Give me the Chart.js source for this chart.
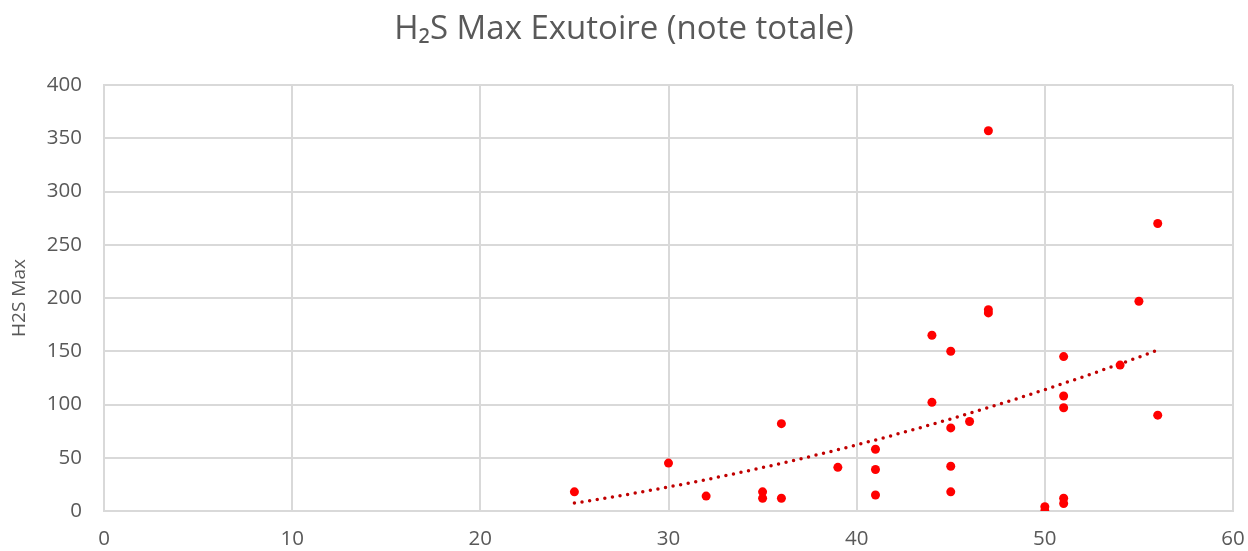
<!DOCTYPE html>
<html>
<head>
<meta charset="utf-8">
<script src="https://cdn.jsdelivr.net/npm/chart.js@4.4.0/dist/chart.umd.min.js"></script>
<style>
html,body{margin:0;padding:0;background:#fff;}
#wrap{width:1248px;height:551px;position:relative;}
</style>
</head>
<body>
<div id="wrap"><canvas id="c" width="1248" height="551"></canvas></div>
<script>
// Data
const noteTotale = [25,30,32,35,35,36,36,39,41,41,41,44,44,45,45,45,45,46,47,47,47,50,50,51,51,51,51,51,54,55,56,56];
const h2sMax     = [18,45,14,18,12,82,12,41,58,39,15,165,102,150,78,42,18,84,357,189,186,4,0,145,108,97,12,7,137,197,270,90];
const xTicks = [0,10,20,30,40,50,60];
const yTicks = [0,50,100,150,200,250,300,350,400];
const chartTitle = 'H\u2082S Max Exutoire (note totale)';
const yTitle = 'H2S Max';

const points = noteTotale.map((x,i)=>({x:x,y:h2sMax[i]}));

// Polynomial (order 2) least-squares trendline, like the spreadsheet's
function polyFit2(xs, ys){
  let n=xs.length, s1=0,s2=0,s3=0,s4=0,t0=0,t1=0,t2=0;
  for(let i=0;i<n;i++){const x=xs[i],y=ys[i];s1+=x;s2+=x*x;s3+=x*x*x;s4+=x*x*x*x;t0+=y;t1+=x*y;t2+=x*x*y;}
  const M=[[n,s1,s2,t0],[s1,s2,s3,t1],[s2,s3,s4,t2]];
  for(let i=0;i<3;i++){for(let k=i+1;k<3;k++){const f=M[k][i]/M[i][i];for(let j=i;j<4;j++)M[k][j]-=f*M[i][j];}}
  const c=[0,0,0];
  for(let i=2;i>=0;i--){let s=M[i][3];for(let j=i+1;j<3;j++)s-=M[i][j]*c[j];c[i]=s/M[i][i];}
  return c; // c0 + c1 x + c2 x^2
}
const coef = polyFit2(noteTotale, h2sMax);
const xMin = Math.min(...noteTotale), xMax = Math.max(...noteTotale);
const trend = [];
for(let i=0;i<=62;i++){const x=xMin+(xMax-xMin)*i/62;trend.push({x:x,y:coef[0]+coef[1]*x+coef[2]*x*x});}

const FONT = "'Open Sans', 'Noto Sans', sans-serif";
const GREY = '#595959';
const GRID = '#d9d9d9';

new Chart(document.getElementById('c'), {
  type: 'scatter',
  data: {
    datasets: [
      {data: trend, showLine: true, pointRadius: 0, borderColor: '#c00000', borderWidth: 3.5,
       borderDash: [0, 7.7], borderCapStyle: 'round', fill: false, order: 2},
      {data: points, pointRadius: 4.5, pointHoverRadius: 4.5, backgroundColor: '#ff0000', borderColor: '#ff0000', borderWidth: 0, order: 1}
    ]
  },
  options: {
    responsive: false,
    animation: false,
    events: [],
    layout: {padding: {left: 0, right: 0, top: 0, bottom: 0}},
    plugins: {
      legend: {display: false},
      tooltip: {enabled: false},
      title: {display: true, text: chartTitle, color: GREY,
        font: {family: FONT, size: 33, weight: 'normal'}, padding: {top: 10, bottom: 35.4}}
    },
    scales: {
      x: {type: 'linear', min: 0, max: 60,
        afterBuildTicks: s => { s.ticks = xTicks.map(v=>({value:v})); },
        afterFit: s => { s.height = 40; s.paddingRight = 15; s.paddingLeft = 0; },
        grid: {color: GRID, lineWidth: 2, drawTicks: false},
        border: {color: GRID, width: 2},
        ticks: {color: GREY, font: {family: FONT, size: 20.5}, padding: 16, maxRotation: 0}
      },
      y: {type: 'linear', min: 0, max: 400,
        afterBuildTicks: s => { s.ticks = yTicks.map(v=>({value:v})); },
        afterFit: s => { s.width = 104; },
        grid: {color: GRID, lineWidth: 2, drawTicks: false},
        border: {color: GRID, width: 2},
        title: {display: true, text: yTitle, color: GREY, font: {family: FONT, size: 19}, padding: {top: 8.6, bottom: 0}},
        ticks: {color: GREY, font: {family: FONT, size: 20.5}, padding: 22}
      }
    }
  }
});
</script>
</body>
</html>
